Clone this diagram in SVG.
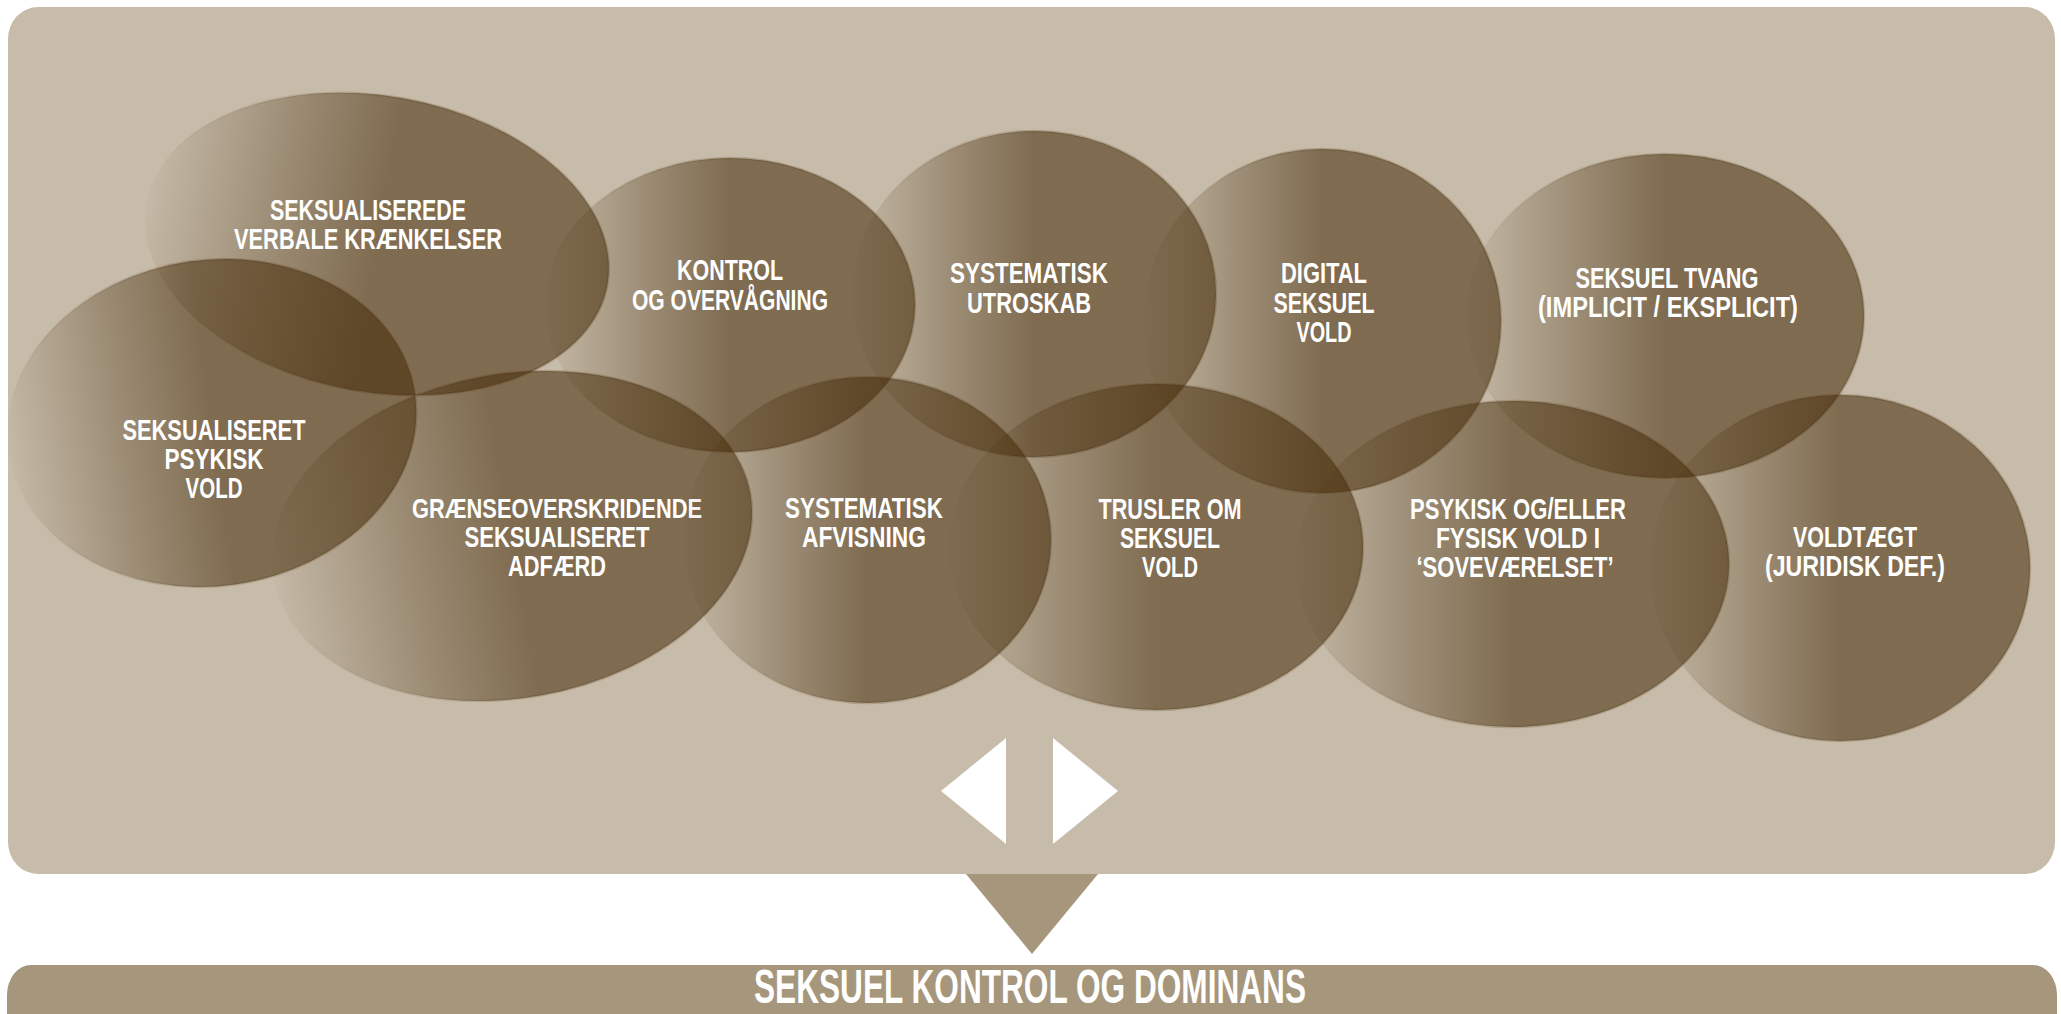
<svg xmlns="http://www.w3.org/2000/svg" width="2061" height="1014" viewBox="0 0 2061 1014">
  <defs>
    <linearGradient id="fade" x1="0" y1="0" x2="1" y2="0">
      <stop offset="0" stop-color="#442A07" stop-opacity="0.02"/>
      <stop offset="0.25" stop-color="#442A07" stop-opacity="0.3"/>
      <stop offset="0.5" stop-color="#442A07" stop-opacity="0.55"/>
      <stop offset="1" stop-color="#442A07" stop-opacity="0.55"/>
    </linearGradient>
    <linearGradient id="rim" x1="0" y1="0" x2="1" y2="0">
      <stop offset="0" stop-color="#442A07" stop-opacity="0"/>
      <stop offset="0.5" stop-color="#442A07" stop-opacity="0.2"/>
      <stop offset="1" stop-color="#442A07" stop-opacity="0.2"/>
    </linearGradient>
    <style>
      .bubble { fill: url(#fade); stroke: url(#rim); stroke-width: 2.5; }
      .lbl { font-family: "Liberation Sans", Arial, sans-serif; font-weight: bold; font-size: 30px; fill: #FFFFFF; text-anchor: middle; }
      .lbl-sm { font-size: 28.5px; }
      .title { font-family: "Liberation Sans", Arial, sans-serif; font-weight: bold; font-size: 48px; fill: #FFFFFF; text-anchor: middle; }
    </style>
  </defs>

  <rect id="panel" x="8" y="7" width="2047" height="867" rx="30" ry="32" fill="#C7BCAA"/>

  <g id="node-verbale">
    <ellipse class="bubble" cx="377" cy="244" rx="234" ry="148" transform="rotate(10 377 244)"/>
    <text class="lbl" x="368" y="220" textLength="196" lengthAdjust="spacingAndGlyphs">SEKSUALISEREDE</text>
    <text class="lbl" x="368" y="249" textLength="268" lengthAdjust="spacingAndGlyphs">VERBALE KRÆNKELSER</text>
  </g>
  <g id="node-kontrol">
    <ellipse class="bubble" cx="730" cy="305" rx="185" ry="147"/>
    <text class="lbl" x="730" y="280" textLength="106" lengthAdjust="spacingAndGlyphs">KONTROL</text>
    <text class="lbl" x="730" y="310" textLength="196" lengthAdjust="spacingAndGlyphs">OG OVERVÅGNING</text>
  </g>
  <g id="node-utroskab">
    <ellipse class="bubble" cx="1034" cy="294" rx="182" ry="163"/>
    <text class="lbl" x="1029" y="283" textLength="158" lengthAdjust="spacingAndGlyphs">SYSTEMATISK</text>
    <text class="lbl" x="1029" y="313" textLength="124" lengthAdjust="spacingAndGlyphs">UTROSKAB</text>
  </g>
  <g id="node-digital">
    <ellipse class="bubble" cx="1322" cy="321" rx="179" ry="172"/>
    <text class="lbl" x="1324" y="283" textLength="86" lengthAdjust="spacingAndGlyphs">DIGITAL</text>
    <text class="lbl" x="1324" y="313" textLength="101" lengthAdjust="spacingAndGlyphs">SEKSUEL</text>
    <text class="lbl" x="1324" y="342" textLength="55" lengthAdjust="spacingAndGlyphs">VOLD</text>
  </g>
  <g id="node-tvang">
    <ellipse class="bubble" cx="1665" cy="316" rx="199" ry="162"/>
    <text class="lbl" x="1667" y="288" textLength="183" lengthAdjust="spacingAndGlyphs">SEKSUEL TVANG</text>
    <text class="lbl" x="1668" y="317" textLength="260" lengthAdjust="spacingAndGlyphs">(IMPLICIT / EKSPLICIT)</text>
  </g>
  <g id="node-psykisk">
    <ellipse class="bubble" cx="212" cy="423" rx="205" ry="163" transform="rotate(-8 212 423)"/>
    <text class="lbl" x="214" y="440" textLength="183" lengthAdjust="spacingAndGlyphs">SEKSUALISERET</text>
    <text class="lbl" x="214" y="469" textLength="99" lengthAdjust="spacingAndGlyphs">PSYKISK</text>
    <text class="lbl" x="214" y="498" textLength="57" lengthAdjust="spacingAndGlyphs">VOLD</text>
  </g>
  <g id="node-graense">
    <ellipse class="bubble" cx="512" cy="536" rx="242" ry="162" transform="rotate(-10 512 536)"/>
    <text class="lbl lbl-sm" x="557" y="518" textLength="290" lengthAdjust="spacingAndGlyphs">GRÆNSEOVERSKRIDENDE</text>
    <text class="lbl" x="557" y="547" textLength="185" lengthAdjust="spacingAndGlyphs">SEKSUALISERET</text>
    <text class="lbl" x="557" y="576" textLength="98" lengthAdjust="spacingAndGlyphs">ADFÆRD</text>
  </g>
  <g id="node-afvisning">
    <ellipse class="bubble" cx="867" cy="540" rx="184" ry="163"/>
    <text class="lbl" x="864" y="518" textLength="158" lengthAdjust="spacingAndGlyphs">SYSTEMATISK</text>
    <text class="lbl" x="864" y="547" textLength="124" lengthAdjust="spacingAndGlyphs">AFVISNING</text>
  </g>
  <g id="node-trusler">
    <ellipse class="bubble" cx="1156" cy="547" rx="207" ry="163"/>
    <text class="lbl" x="1170" y="519" textLength="143" lengthAdjust="spacingAndGlyphs">TRUSLER OM</text>
    <text class="lbl" x="1170" y="548" textLength="100" lengthAdjust="spacingAndGlyphs">SEKSUEL</text>
    <text class="lbl" x="1170" y="577" textLength="56" lengthAdjust="spacingAndGlyphs">VOLD</text>
  </g>
  <g id="node-sovevaerelset">
    <ellipse class="bubble" cx="1512" cy="564" rx="217" ry="163"/>
    <text class="lbl" x="1518" y="519" textLength="216" lengthAdjust="spacingAndGlyphs">PSYKISK OG/ELLER</text>
    <text class="lbl" x="1518" y="548" textLength="164" lengthAdjust="spacingAndGlyphs">FYSISK VOLD I</text>
    <text class="lbl" x="1515" y="577" textLength="197" lengthAdjust="spacingAndGlyphs">‘SOVEVÆRELSET’</text>
  </g>
  <g id="node-voldtaegt">
    <ellipse class="bubble" cx="1840" cy="568" rx="190" ry="173"/>
    <text class="lbl" x="1855" y="547" textLength="124" lengthAdjust="spacingAndGlyphs">VOLDTÆGT</text>
    <text class="lbl" x="1855" y="576" textLength="180" lengthAdjust="spacingAndGlyphs">(JURIDISK DEF.)</text>
  </g>

  <g id="connectors">
    <polygon points="941,791 1006,738 1006,844" fill="#FFFFFF"/>
    <polygon points="1118,791 1053,738 1053,844" fill="#FFFFFF"/>
    <polygon points="966,874 1098,874 1032,954" fill="#A6967B"/>
  </g>

  <g id="node-result">
    <rect x="7" y="965" width="2050" height="90" rx="24" ry="30" fill="#A6967B"/>
    <text class="title" x="1030" y="1003" textLength="552" lengthAdjust="spacingAndGlyphs">SEKSUEL KONTROL OG DOMINANS</text>
  </g>
</svg>
